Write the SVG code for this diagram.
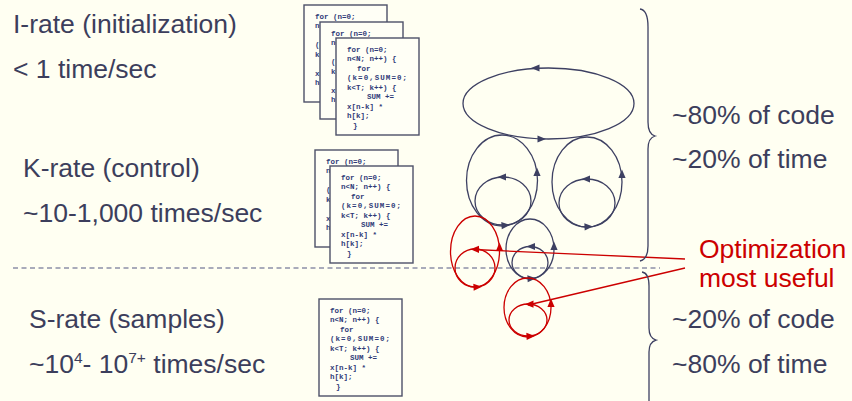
<svg xmlns="http://www.w3.org/2000/svg" xmlns:xlink="http://www.w3.org/1999/xlink" width="852" height="401" viewBox="0 0 852 401">
  <style>
    .lbl { font-family: "Liberation Sans", Arial, sans-serif; font-size: 26.5px; fill: #3c3e5c; }
    .red { fill: #cc0000; }
    .code { font-family: "Liberation Mono", "Courier New", monospace; font-size: 7.5px; font-weight: bold; fill: #2f3b78; }
    .box { fill: #fffff6; stroke: #4d5168; stroke-width: 1.4; }
    .loop { fill: none; stroke: #3d4062; stroke-width: 1.3; }
    .loop.r { stroke: #cc0000; }
    .ptr { fill: none; stroke: #cc0000; stroke-width: 1.3; }
    .brace { fill: none; stroke: #3d4062; stroke-width: 1.3; }
    .rule { stroke: #8d90a8; stroke-width: 1.5; stroke-dasharray: 5 3.5; }
  </style>
  <defs>
    <!-- arrowhead with its tip at the origin, pointing along +x -->
    <path id="ah" d="M0,0 L-8.5,-3.6 L-8.5,3.6 Z"/>
    <!-- code listing card, origin at top-left corner -->
    <g id="listing">
      <rect class="box" x="0" y="0" width="83" height="97"/>
      <text class="code" x="11" y="13.5">for (n=0;</text>
      <text class="code" x="11" y="23">n&lt;N; n++) {</text>
      <text class="code" x="21" y="32.5">for</text>
      <text class="code" x="11" y="42" textLength="60">(k=0,SUM=0;</text>
      <text class="code" x="11" y="51.5">k&lt;T; k++) {</text>
      <text class="code" x="31" y="61">SUM +=</text>
      <text class="code" x="11" y="70.5">x[n-k] *</text>
      <text class="code" x="11" y="80">h[k];</text>
      <text class="code" x="17" y="89.5">}</text>
    </g>
  </defs>

  <rect x="0" y="0" width="852" height="401" fill="#fffff2"/>

  <!-- rate boundary -->
  <line class="rule" x1="13" y1="268" x2="660" y2="268"/>

  <!-- rate labels -->
  <g id="i-rate">
    <text class="lbl" x="13" y="33">I-rate (initialization)</text>
    <text class="lbl" x="13" y="78">&lt; 1 time/sec</text>
  </g>
  <g id="k-rate">
    <text class="lbl" x="23" y="177">K-rate (control)</text>
    <text class="lbl" x="23" y="222">~10-1,000 times/sec</text>
  </g>
  <g id="s-rate">
    <text class="lbl" x="29" y="373">~10<tspan font-size="15.5" dy="-10">4</tspan><tspan dy="10">- 10</tspan><tspan font-size="15.5" dy="-10">7+</tspan><tspan dy="10"> times/sec</tspan></text>
    <text class="lbl" x="29" y="328">S-rate (samples)</text>
  </g>

  <!-- code cards -->
  <g id="code-i">
    <use xlink:href="#listing" transform="translate(304,5)"/>
    <use xlink:href="#listing" transform="translate(320,22)"/>
    <use xlink:href="#listing" transform="translate(336,38)"/>
  </g>
  <g id="code-k">
    <use xlink:href="#listing" transform="translate(315,150)"/>
    <use xlink:href="#listing" transform="translate(330,166)"/>
  </g>
  <g id="code-s">
    <use xlink:href="#listing" transform="translate(319,299)"/>
  </g>

  <!-- loop nest -->
  <g id="loops">
    <g id="loop-outer" fill="#3d4062">
      <ellipse class="loop" cx="548.5" cy="103.5" rx="85.5" ry="35.5"/>
      <use xlink:href="#ah" transform="translate(531,68) rotate(180)"/>
      <use xlink:href="#ah" transform="translate(546,139)"/>
    </g>
    <g id="loop-k-left" fill="#3d4062">
      <ellipse class="loop" cx="502" cy="180.5" rx="35.5" ry="45.5"/>
      <ellipse class="loop" cx="503" cy="201" rx="28" ry="24"/>
      <use xlink:href="#ah" transform="translate(537,167.5) rotate(-90)"/>
      <use xlink:href="#ah" transform="translate(510,225) rotate(-4)"/>
      <use xlink:href="#ah" transform="translate(497.5,177) rotate(180)"/>
    </g>
    <g id="loop-k-right" fill="#3d4062">
      <ellipse class="loop" cx="587" cy="182" rx="35" ry="45"/>
      <ellipse class="loop" cx="587" cy="203" rx="28" ry="24"/>
      <use xlink:href="#ah" transform="translate(622,169.5) rotate(-90)"/>
      <use xlink:href="#ah" transform="translate(593,226.5) rotate(-3)"/>
      <use xlink:href="#ah" transform="translate(581.5,179) rotate(180)"/>
    </g>
    <g id="loop-k-mid" fill="#3d4062">
      <ellipse class="loop" cx="530" cy="249" rx="24" ry="30"/>
      <ellipse class="loop" cx="530" cy="262.5" rx="18" ry="16"/>
      <use xlink:href="#ah" transform="translate(554,241.5) rotate(-90)"/>
      <use xlink:href="#ah" transform="translate(526.5,246.5) rotate(180)"/>
      <use xlink:href="#ah" transform="translate(536,278.3) rotate(-3)"/>
    </g>
    <g id="loop-s-left" fill="#cc0000">
      <ellipse class="loop r" cx="475" cy="251.5" rx="24.5" ry="35.5"/>
      <ellipse class="loop r" cx="475" cy="268" rx="20" ry="19"/>
      <use xlink:href="#ah" transform="translate(499.5,242.5) rotate(-90)"/>
      <use xlink:href="#ah" transform="translate(470.5,249.3) rotate(180)"/>
      <use xlink:href="#ah" transform="translate(482,286.8) rotate(-3)"/>
    </g>
    <g id="loop-s-low" fill="#cc0000">
      <ellipse class="loop r" cx="527.5" cy="307.5" rx="23.5" ry="29.5"/>
      <ellipse class="loop r" cx="528" cy="320" rx="19" ry="16"/>
      <use xlink:href="#ah" transform="translate(551,298.5) rotate(-90)"/>
      <use xlink:href="#ah" transform="translate(525,304.2) rotate(180)"/>
      <use xlink:href="#ah" transform="translate(535,336) rotate(-3)"/>
    </g>
  </g>

  <!-- pointers from the note to the innermost loops -->
  <g id="connectors">
    <line class="ptr" x1="685" y1="259" x2="474" y2="249.5"/>
    <line class="ptr" x1="685" y1="268" x2="528" y2="305"/>
  </g>

  <!-- braces -->
  <g id="brace-upper">
    <path class="brace" d="M640,9 Q648,10 648,27 L648,122 Q648,134 655,136 Q648,138 648,149 L648,246 Q648,259 640,261"/>
  </g>
  <g id="brace-lower">
    <path class="brace" d="M642,272 Q649,273 649,286 L649,328 Q649,338 656,340 Q649,342 649,352 L649,401"/>
  </g>

  <!-- share notes -->
  <g id="share-upper">
    <text class="lbl" x="672" y="124">~80% of code</text>
    <text class="lbl" x="672" y="168">~20% of time</text>
  </g>
  <g id="note">
    <text class="lbl red" x="699" y="258">Optimization</text>
    <text class="lbl red" x="699" y="287">most useful</text>
  </g>
  <g id="share-lower">
    <text class="lbl" x="672" y="328">~20% of code</text>
    <text class="lbl" x="672" y="373">~80% of time</text>
  </g>
</svg>
